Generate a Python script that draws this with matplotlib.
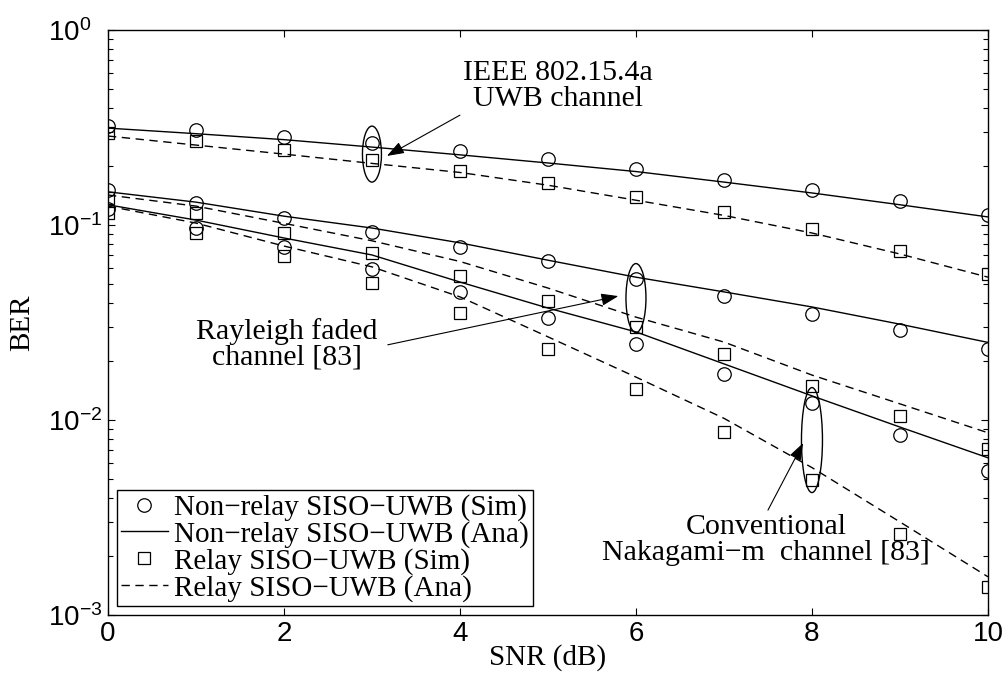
import numpy as np
import matplotlib
matplotlib.use('Agg')
import matplotlib.pyplot as plt
from matplotlib.patches import Ellipse

plt.rcParams['font.family'] = ['Liberation Serif', 'DejaVu Serif']
plt.rcParams['mathtext.default'] = 'regular'

snr = np.arange(0, 11)

# IEEE 802.15.4a UWB channel
ieee_sim = [0.322, 0.307, 0.283, 0.262, 0.240, 0.217, 0.193, 0.171, 0.151, 0.132, 0.112]
ieee_ana = [0.314, 0.294, 0.274, 0.251, 0.229, 0.208, 0.188, 0.166, 0.146, 0.127, 0.110]
ieee_relay_sim = [0.295, 0.271, 0.242, 0.216, 0.190, 0.165, 0.139, 0.117, 0.095, 0.074, 0.056]
ieee_relay_ana = [0.286, 0.257, 0.231, 0.207, 0.186, 0.160, 0.134, 0.112, 0.091, 0.071, 0.054]

# Rayleigh faded channel
ray_sim = [0.151, 0.129, 0.109, 0.092, 0.077, 0.065, 0.053, 0.043, 0.035, 0.029, 0.023]
ray_ana = [0.148, 0.131, 0.111, 0.0965, 0.081, 0.066, 0.054, 0.0454, 0.038, 0.031, 0.025]
ray_relay_sim = [0.137, 0.115, 0.0914, 0.0716, 0.0547, 0.0407, 0.030, 0.0218, 0.0149, 0.0105, 0.0071]
ray_relay_ana = [0.1425, 0.125, 0.102, 0.083, 0.065, 0.0475, 0.0337, 0.0251, 0.017, 0.0121, 0.0086]

# conventional Nakagami-m channel
nak_sim = [0.121, 0.096, 0.0774, 0.0595, 0.0455, 0.0334, 0.0245, 0.0172, 0.0122, 0.0084, 0.0055]
nak_ana = [0.127, 0.106, 0.0858, 0.0702, 0.051, 0.0375, 0.0283, 0.0194, 0.0133, 0.0092, 0.0064]
nak_relay_sim = [0.1156, 0.0914, 0.0694, 0.0506, 0.0352, 0.0231, 0.0145, 0.0087, 0.0049, 0.0026, 0.00139]
nak_relay_ana = [0.125, 0.1023, 0.078, 0.061, 0.0428, 0.0267, 0.0166, 0.0102, 0.0057, 0.0030, 0.00157]

labels = ['Non\u2212relay SISO\u2212UWB (Sim)', 'Non\u2212relay SISO\u2212UWB (Ana)',
          'Relay SISO\u2212UWB (Sim)', 'Relay SISO\u2212UWB (Ana)']

fig = plt.figure(figsize=(10.07, 6.73), dpi=100)
ax = fig.add_axes([0.1072, 0.0862, 0.8739, 0.8692])

dash = (0, (6, 4))
groups = [(ieee_sim, ieee_ana, ieee_relay_sim, ieee_relay_ana),
          (ray_sim, ray_ana, ray_relay_sim, ray_relay_ana),
          (nak_sim, nak_ana, nak_relay_sim, nak_relay_ana)]
handles = []
for ns, na, rs, ra in groups:
    h1, = ax.plot(snr, na, color='k', lw=1.0)
    h3, = ax.plot(snr, ra, color='k', lw=1.0, linestyle=dash)
    h0, = ax.plot(snr, ns, 'o', color='k', mfc='none', ms=9.7, mew=0.9)
    h2, = ax.plot(snr, rs, 's', color='k', mfc='none', ms=8.6, mew=0.9)
    if not handles:
        handles = [h0, h1, h2, h3]

ax.set_yscale('log')
ax.set_xlim(0, 10)
ax.set_ylim(1e-3, 1)
ax.set_xticks([0, 2, 4, 6, 8, 10])
ax.set_yticks([1e-3, 1e-2, 1e-1, 1])

for s in ax.spines.values():
    s.set_linewidth(1.0)
ax.tick_params(which='both', direction='in', top=True, right=True,
               labelfontfamily='Liberation Sans', labelsize=20, width=0.8)
ax.tick_params(which='major', length=5)
ax.tick_params(which='minor', length=3.5)
ax.tick_params(axis='x', which='minor', bottom=False, top=False)
ax.tick_params(axis='x', pad=4)
ax.tick_params(axis='y', which='major', pad=43)
plt.setp(ax.get_yticklabels(), ha='left')

ax.set_xlabel('SNR (dB)', fontsize=21, va='center')
ax.set_ylabel('BER', fontsize=21, va='center')
ax.xaxis.set_label_coords(0.5, -0.0735)
ax.yaxis.set_label_coords(-0.0977, 0.5)

leg = ax.legend(handles, labels, loc='lower left', fontsize=21, frameon=True,
                fancybox=False, framealpha=1, edgecolor='k', borderaxespad=0.3,
                borderpad=0.15, labelspacing=0.0, handlelength=1.6, handletextpad=0.2)
leg.get_frame().set_linewidth(1.0)

# ellipses grouping the simulated points (width/height in pixels)
ax_w, ax_h = 880.0, 585.0
for x, y, w, h in [(3, 0.231, 19, 56), (6, 0.0422, 20, 69), (8, 0.00789, 21, 105)]:
    cx, cy = ax.transAxes.inverted().transform(ax.transData.transform((x, y)))
    ax.add_patch(Ellipse((cx, cy), w / ax_w, h / ax_h, transform=ax.transAxes,
                         fill=False, edgecolor='k', lw=1.0))

arrow = dict(arrowstyle='-|>,head_length=0.7,head_width=0.25', color='k', lw=0.8,
             shrinkA=0, shrinkB=0, mutation_scale=15)

ax.text(5.11, 0.516, 'IEEE 802.15.4a\nUWB channel', ha='center', va='center',
        fontsize=21.5, linespacing=1.0)
ax.annotate('', xy=(3.17, 0.226), xytext=(4.0, 0.366), arrowprops=arrow)

ax.text(2.03, 0.0245, 'Rayleigh faded\nchannel [83]', ha='center', va='center',
        fontsize=21.5, linespacing=1.0)
ax.annotate('', xy=(5.80, 0.0432), xytext=(3.18, 0.0243), arrowprops=arrow)

ax.text(7.48, 0.00243, 'Conventional\nNakagami\u2212m  channel [83]', ha='center',
        va='center', fontsize=21.5, linespacing=1.0)
ax.annotate('', xy=(7.90, 0.00762), xytext=(7.5, 0.00345), arrowprops=arrow)

fig.savefig('out.png', dpi=100)
